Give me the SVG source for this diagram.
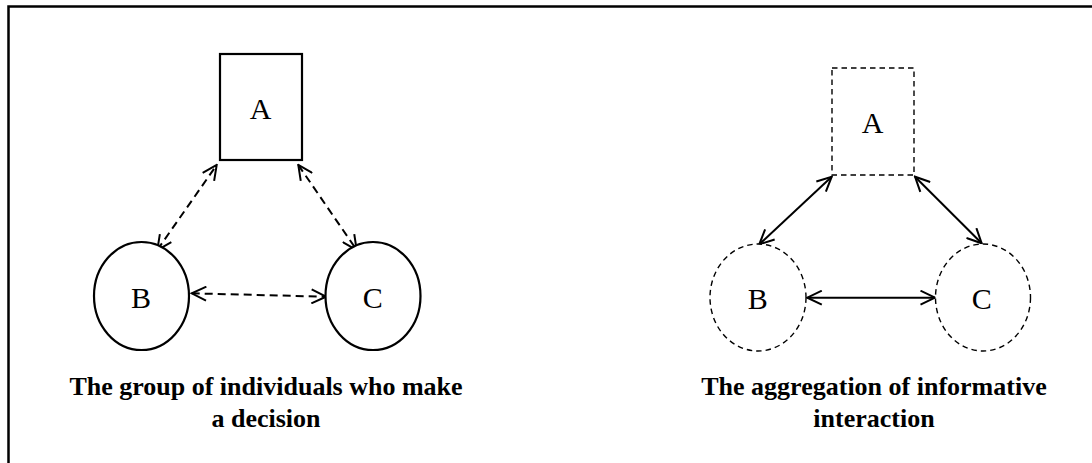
<svg xmlns="http://www.w3.org/2000/svg" width="1092" height="463" viewBox="0 0 1092 463">
<defs>
<style>
.lbl{font-family:"Liberation Serif","Times New Roman",serif;font-size:30px;fill:#000;text-anchor:middle}
.cap{font-family:"Liberation Serif","Times New Roman",serif;font-size:26px;font-weight:bold;fill:#000;text-anchor:middle}
.solid{fill:#fff;stroke:#000;stroke-width:2.2}
.dnode{fill:#fff;stroke:#000;stroke-width:1.4;stroke-dasharray:5.5,4}
.dconn{fill:none;stroke:#000;stroke-width:2;stroke-dasharray:8,5;marker-start:url(#ah);marker-end:url(#ah)}
.sconn{fill:none;stroke:#000;stroke-width:2;marker-start:url(#ah);marker-end:url(#ah)}
</style>
<marker id="ah" viewBox="0 0 18 16" refX="16.5" refY="8" markerWidth="18" markerHeight="16" markerUnits="userSpaceOnUse" orient="auto-start-reverse">
<path d="M2,1 L16.5,8 L2,15" fill="none" stroke="#000" stroke-width="2"/>
</marker>
</defs>
<rect width="1092" height="463" fill="#fff"/>
<path d="M8.5,463 V6.5 H1092" fill="none" stroke="#000" stroke-width="2.5"/>
<g id="connectors">
<line class="dconn" x1="157.3" y1="250" x2="216.7" y2="165"/>
<line class="dconn" x1="298.3" y1="165" x2="356.7" y2="250"/>
<line class="dconn" x1="191.7" y1="293.3" x2="326" y2="296.7"/>
<line class="sconn" x1="759.3" y1="244.3" x2="831.7" y2="176.7"/>
<line class="sconn" x1="915" y1="176.7" x2="981.7" y2="243.3"/>
<line class="sconn" x1="807.3" y1="297.7" x2="935" y2="297.7"/>
</g>
<g id="nodeA1"><rect class="solid" x="220" y="54" width="82" height="106"/><text class="lbl" x="260.5" y="119">A</text></g>
<g id="nodeB1"><ellipse class="solid" cx="141.5" cy="296" rx="47.5" ry="54"/><text class="lbl" x="141" y="308">B</text></g>
<g id="nodeC1"><ellipse class="solid" cx="373" cy="296" rx="47.5" ry="54"/><text class="lbl" x="372.7" y="308">C</text></g>
<g id="nodeA2"><rect class="dnode" x="832" y="68" width="82" height="107"/><text class="lbl" x="872.7" y="133">A</text></g>
<g id="nodeB2"><ellipse class="dnode" cx="758" cy="297.5" rx="48" ry="53.5"/><text class="lbl" x="757.7" y="309">B</text></g>
<g id="nodeC2"><ellipse class="dnode" cx="983" cy="297.5" rx="47.5" ry="53.5"/><text class="lbl" x="981.7" y="309">C</text></g>
<g id="caption1"><text class="cap" x="266" y="395">The group of individuals who make</text><text class="cap" x="266" y="427">a decision</text></g>
<g id="caption2"><text class="cap" x="874" y="395">The aggregation of informative</text><text class="cap" x="874" y="427">interaction</text></g>
</svg>
